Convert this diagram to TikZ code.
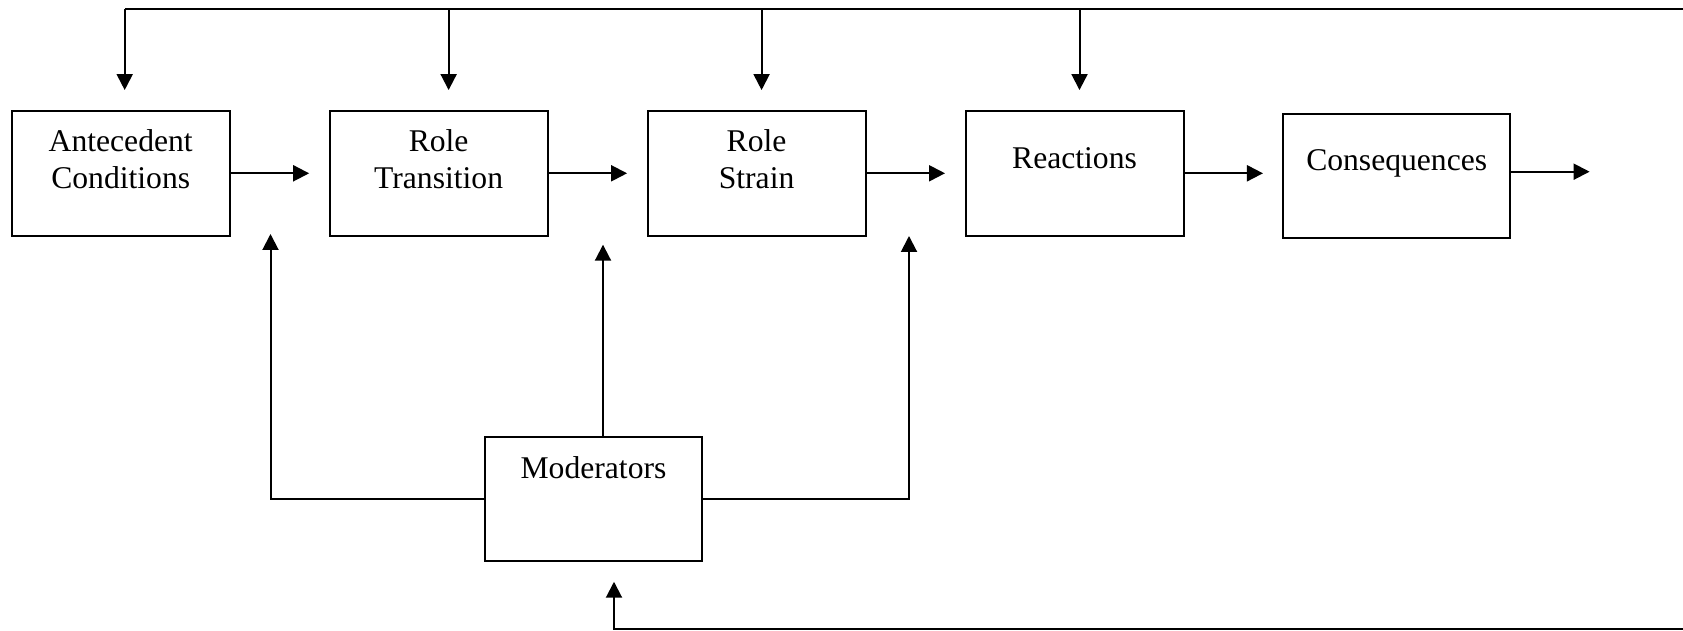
\documentclass[tikz,border=0pt]{standalone}
\usepackage{fontspec}
\setmainfont{Liberation Serif}
\usepackage{tikz}
\usetikzlibrary{arrows.meta, positioning}

\tikzset{
  blok/.style={draw, line width=0.04cm, inner sep=0pt, text width=4.36cm, align=center},
  link/.style={line width=0.04cm}
}

\begin{document}
\begin{tikzpicture}[x=0.02cm, y=-0.02cm, >={Triangle[length=0.32cm, width=0.32cm]},
    font=\fontsize{18}{21.3}\selectfont]

  \useasboundingbox (0, 0) rectangle (1683, 631);

  % main chain
  \node[blok, text height=0.81cm, text depth=1.70cm] (ante) at (120.7, 173.3) {Antecedent\\Conditions};
  \node[blok, text height=0.81cm, text depth=1.70cm, right=1.96cm of ante] (trans) {Role\\Transition};
  \node[blok, text height=0.81cm, text depth=1.70cm, right=1.96cm of trans] (strain) {Role\\Strain};
  \node[blok, text height=1.15cm, text depth=1.36cm, right=1.96cm of strain] (react) {Reactions};
  \node[blok, text height=1.13cm, text depth=1.36cm, text width=4.53cm, right=1.96cm of react, yshift=-0.05cm] (conseq) {Consequences};

  \node[blok, text height=0.83cm, text depth=1.66cm] (moder) at (593.5, 499) {Moderators};

  \draw[link, ->] (ante.east) -- ([xshift=-0.39cm]trans.west);
  \draw[link, ->] (trans.east) -- ([xshift=-0.39cm]strain.west);
  \draw[link, ->] (strain.east) -- ([xshift=-0.39cm]react.west);
  \draw[link, ->] (react.east) -- ([xshift=-0.39cm]conseq.west |- react.east);
  \coordinate (out) at (1589.6, 171.7);
  \draw[link, ->] (conseq.east |- out) -- (out);

  % feedback along the top
  \coordinate (topR) at (1683, 8.6);
  \draw[link] (topR) -- ([xshift=0.08cm]ante.north |- topR);
  \foreach \n/\dx in {ante/0.08, trans/0.2, strain/0.1, react/0.1} {
    \draw[link, ->] ([xshift=\dx cm]\n.north |- topR) -- ([xshift=\dx cm, yshift=0.39cm]\n.north);
  }

  % moderating paths
  \coordinate (modL) at (270.5, 234);
  \coordinate (modM) at (603, 244.7);
  \coordinate (modR) at (909, 236);
  \draw[link, ->] (moder.west) -| (modL);
  \draw[link, ->] (modM |- moder.north) -- (modM);
  \draw[link, ->] (moder.east) -| (modR);

  \coordinate (botR) at (1683, 629);
  \draw[link, ->] (botR) -| ([xshift=0.41cm, yshift=-0.39cm]moder.south);

\end{tikzpicture}
\end{document}
